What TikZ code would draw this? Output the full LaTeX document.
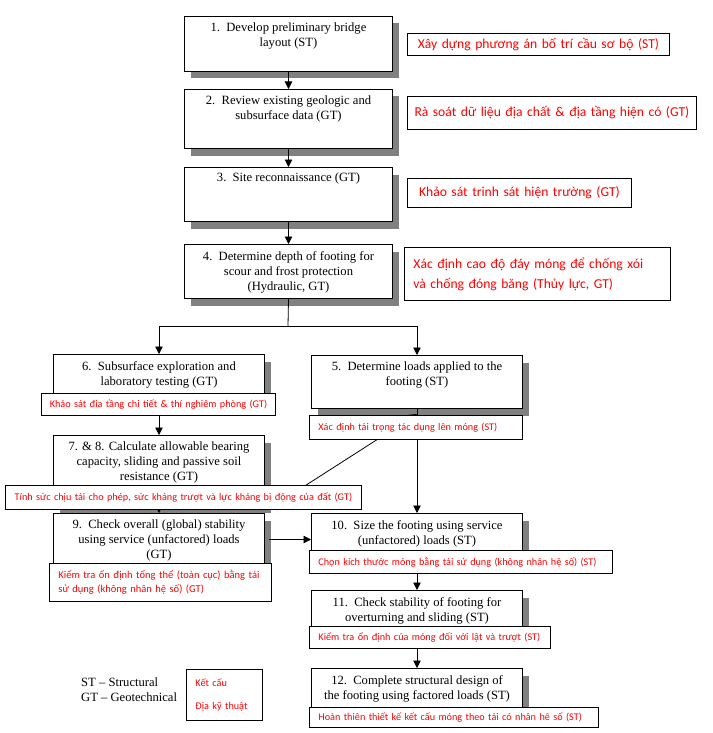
\documentclass[tikz,border=0pt]{standalone}
\usepackage{fontspec}
\setmainfont{Liberation Serif}
\newfontfamily\vnfont{Carlito}
\usetikzlibrary{arrows.meta,shadows}
\definecolor{shd}{gray}{0.5}
\definecolor{vred}{RGB}{255,0,0}
\tikzset{
  blk/.style={draw, line width=1pt, fill=white, inner sep=0pt, anchor=north west,
    drop shadow={shadow xshift=6.5pt, shadow yshift=-7pt, fill=shd, opacity=1}},
  btxt/.style={anchor=north, inner sep=0pt, align=center, font=\fontsize{12.6}{15}\selectfont},
  rbox/.style={draw, line width=0.9pt, fill=white, inner ysep=0pt, inner xsep=9pt, anchor=north west,
    text=vred, font=\vnfont\fontsize{10.2}{13}\selectfont},
  rbig/.style={rbox, inner xsep=3pt, font=\vnfont\fontsize{13.6}{20}\selectfont},
  arr/.style={line width=0.8pt, -{Triangle[width=7.5pt,length=7.5pt]}},
  ln/.style={line width=0.8pt},
}
\begin{document}
\begin{tikzpicture}[x=1pt,y=-1pt]
\useasboundingbox (0,0) rectangle (712,733);
% black boxes
\node[blk, minimum width=208, minimum height=55] (b1) at (184,16) {};
\node[blk, minimum width=208, minimum height=59] (b2) at (184,89) {};
\node[blk, minimum width=208, minimum height=54] (b3) at (184,167) {};
\node[blk, minimum width=208, minimum height=54] (b4) at (184,244) {};
\node[blk, minimum width=211, minimum height=50] (b6) at (53,354) {};
\node[blk, minimum width=211, minimum height=53] (b5) at (311,355) {};
\node[blk, minimum width=211, minimum height=70] (b78) at (53,435) {};
\node[blk, minimum width=211, minimum height=52] (b9) at (53,513) {};
\node[blk, minimum width=211, minimum height=52] (b10) at (311,513) {};
\node[blk, minimum width=211, minimum height=48] (b11) at (311,590) {};
\node[blk, minimum width=211, minimum height=48] (b12) at (311,668) {};
% box texts
\node[btxt] (t1) at ([yshift=-7pt]b1.north) {1.\ \ Develop preliminary bridge\\layout (ST)};
\node[btxt] (t2) at ([yshift=-7pt]b2.north) {2.\ \ Review existing geologic and\\subsurface data (GT)};
\node[btxt] (t3) at ([yshift=-6pt]b3.north) {3.\ \ Site reconnaissance (GT)};
\node[btxt] (t4) at ([yshift=-7pt]b4.north) {4.\ \ Determine depth of footing for\\scour and frost protection\\(Hydraulic, GT)};
\node[btxt] (t6) at ([yshift=-7pt]b6.north) {6.\ \ Subsurface exploration and\\laboratory testing (GT)};
\node[btxt] (t5) at ([yshift=-7pt]b5.north) {5.\ \ Determine loads applied to the\\footing (ST)};
\node[btxt] (t78) at ([yshift=-7pt]b78.north) {7. \& 8. Calculate allowable bearing\\capacity, sliding and passive soil\\resistance (GT)};
\node[btxt] (t9) at ([yshift=-7pt]b9.north) {9.\ \ Check overall (global) stability\\using service (unfactored) loads\\(GT)};
\node[btxt] (t10) at ([yshift=-7pt]b10.north) {10.\ \ Size the footing using service\\(unfactored) loads (ST)};
\node[btxt] (t11) at ([yshift=-7pt]b11.north) {11.\ \ Check stability of footing for\\overturning and sliding (ST)};
\node[btxt] (t12) at ([yshift=-7pt]b12.north) {12.\ \ Complete structural design of\\the footing using factored loads (ST)};
% connectors
\draw[arr] (b1.south) -- (b2.north);
\draw[arr] (b2.south) -- (b3.north);
\draw[arr] (b3.south) -- (b4.north);
\coordinate (split) at (288,326);
\draw[ln] (b4.south) -- (split);
\draw[arr] (split) -| (b6.north);
\draw[arr] (split) -| (b5.north);
\draw[arr] (b6.south) -- (b78.north);
\draw[arr] (b78.south) -- (b9.north);
\draw[arr] (b5.south) -- (b10.north);
\coordinate (d0) at (300,489);
\draw[arr] (d0) -- ([yshift=-5pt]b5.south);
\draw[arr, shorten <=4pt] (b9.east) -- (b10.west);
\draw[arr] (b10.south) -- (b11.north);
\draw[arr] (b11.south) -- (b12.north);
% red boxes
\node[rbig, minimum width=262, minimum height=22, text width=256, align=center] (r1) at (407,33) {Xây dựng phương án bố trí cầu sơ bộ (ST)};
\node[rbig, minimum width=289, minimum height=33, text width=283, align=center] (r2) at (407,96) {Rà soát dữ liệu địa chất \& địa tầng hiện có (GT)};
\node[rbig, minimum width=224, minimum height=29, text width=218, align=center] (r3) at (407,178) {Khảo sát trinh sát hiện trường (GT)};
\node[rbig, inner xsep=9pt, minimum width=266, minimum height=53, text width=248, align=left] (r4) at (404,247) {Xác định cao độ đáy móng để chống xói\\và chống đóng băng (Thủy lực, GT)\\[-4pt]};
\node[rbox, inner xsep=3pt, minimum width=234, minimum height=22, text width=228, align=center] (r6) at (41,393) {Khảo sát đia tầng chi tiết \& thí nghiêm phòng (GT)};
\node[rbox, minimum width=213, minimum height=24, text width=195, align=left] (r5) at (309,415) {Xác định tải trọng tác dụng lên móng (ST)};
\node[rbox, inner xsep=4pt, minimum width=356, minimum height=24, text width=348, align=center] (r78) at (5,485) {Tính sức chịu tải cho phép, sức kháng trượt và lực kháng bị động của đất (GT)};
\node[rbox, minimum width=222, minimum height=38, text width=204, align=left, font=\vnfont\fontsize{10.5}{13.5}\selectfont] (r9) at (49,563) {Kiểm tra ổn định tổng thể (toàn cục) bằng tải\\sử dụng (không nhân hệ số) (GT)};
\node[rbox, minimum width=303, minimum height=23, text width=285, align=left] (r10) at (309,550) {Chọn kích thước móng bằng tải sử dụng (không nhân hệ số) (ST)};
\node[rbox, minimum width=241, minimum height=22, text width=223, align=left] (r11) at (309,626) {Kiểm tra ổn định của móng đối với lật và trượt (ST)};
\node[rbox, minimum width=289, minimum height=20, text width=271, align=left] (r12) at (309,707) {Hoàn thiên thiết kế kết cấu móng theo tải có nhân hê số (ST)};
% legend
\node[anchor=north west, inner sep=0pt, align=left, font=\fontsize{12.6}{15}\selectfont] (leg) at (81,678) {ST -- Structural\\GT -- Geotechnical};
\node[rbox, font=\vnfont\fontsize{10.2}{23}\selectfont, minimum width=76, minimum height=51, text width=58, align=left] (rleg) at (186,669) {Kết cấu\\Địa kỹ thuật};
\end{tikzpicture}
\end{document}
